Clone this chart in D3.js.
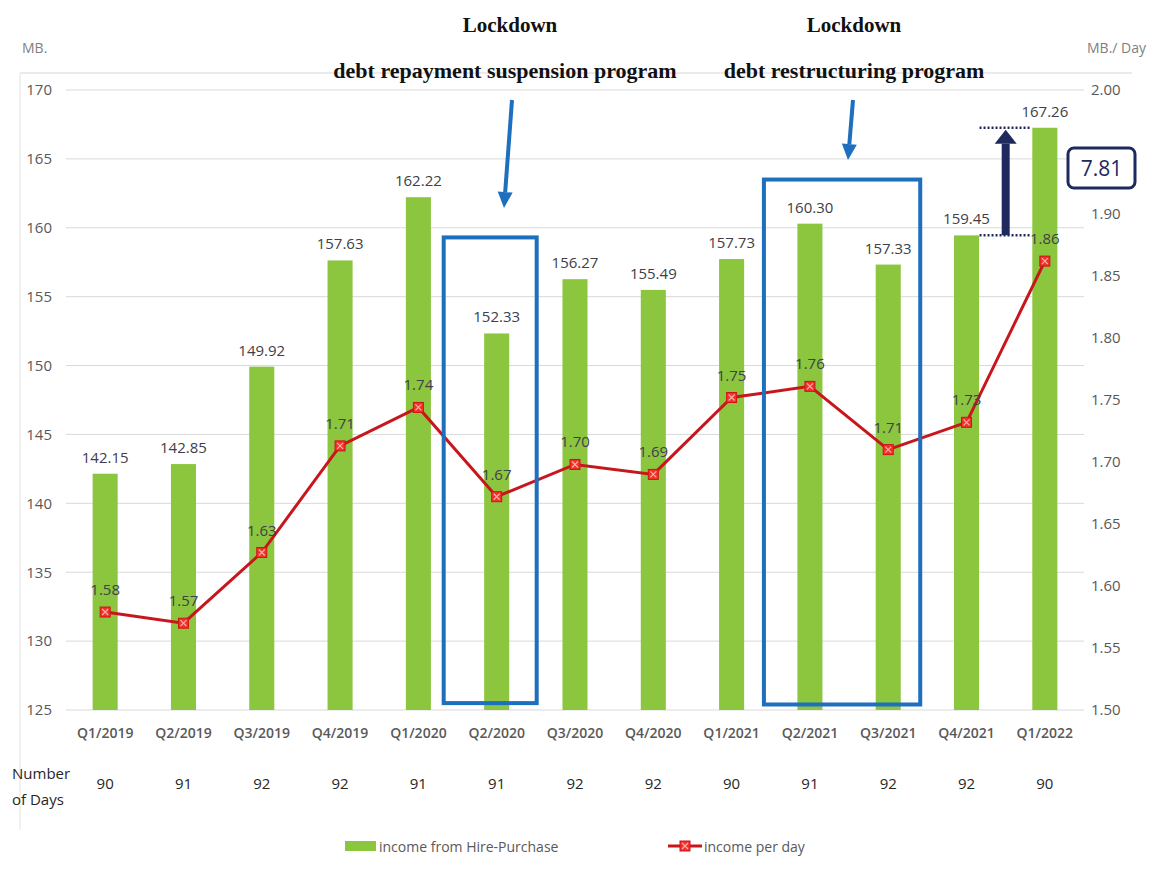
<!DOCTYPE html>
<html><head><meta charset="utf-8">
<script src="https://cdn.jsdelivr.net/npm/d3@7"></script>
<style>body{margin:0;background:#fff;} svg{display:block;}</style>
</head><body>
<svg id="chart" width="1162" height="873"></svg>
<script>
const categories = ["Q1/2019","Q2/2019","Q3/2019","Q4/2019","Q1/2020","Q2/2020","Q3/2020","Q4/2020","Q1/2021","Q2/2021","Q3/2021","Q4/2021","Q1/2022"];
const incomeHP = [142.15,142.85,149.92,157.63,162.22,152.33,156.27,155.49,157.73,160.30,157.33,159.45,167.26];
const incomePerDay = [1.579,1.570,1.627,1.713,1.744,1.672,1.698,1.690,1.752,1.761,1.710,1.732,1.862];
const numberOfDays = [90,91,92,92,91,91,92,92,90,91,92,92,90];
const leftTicks = [125,130,135,140,145,150,155,160,165,170];
const rightTicks = [1.50,1.55,1.60,1.65,1.70,1.75,1.80,1.85,1.90,2.00];
const seriesNames = ["income from Hire-Purchase","income per day"];

const svg = d3.select("#chart");
const font = "'Open Sans', 'Noto Sans', sans-serif";
const serif = "'Liberation Serif', 'DejaVu Serif', serif";
const green = "#8cc63f", red = "#c8161d", blue = "#1f6fbf", navy = "#1e2a5e";

const x = d3.scaleBand().domain(categories).range([66, 1084]).paddingInner(0.68).paddingOuter(0.34);
const yL = d3.scaleLinear().domain([125,170]).range([710, 90]);
const yR = d3.scaleLinear().domain([1.5,2.0]).range([710, 90]);
const cx = c => x(c) + x.bandwidth()/2;

// faint chart border
svg.append("line").attr("x1",20).attr("x2",1132).attr("y1",73).attr("y2",73).attr("stroke","#e4e4e4").attr("stroke-width",1.5);
svg.append("line").attr("x1",20).attr("x2",20).attr("y1",73).attr("y2",830).attr("stroke","#ececec").attr("stroke-width",1.5);

// gridlines
svg.append("g").selectAll("line").data(leftTicks).join("line")
  .attr("x1",66).attr("x2",1084).attr("y1",d=>yL(d)).attr("y2",d=>yL(d))
  .attr("stroke","#d9d9d9").attr("stroke-width",1);

// left axis
const gL = svg.append("g").attr("transform","translate(52,0)")
  .call(d3.axisLeft(yL).tickValues(leftTicks).tickSize(0).tickPadding(0).tickFormat(d3.format("d")));
gL.select(".domain").remove();
gL.selectAll("text").attr("font-family",font).attr("font-size",15).attr("fill","#595959");

// right axis
const gR = svg.append("g").attr("transform","translate(1091,0)")
  .call(d3.axisRight(yR).tickValues(rightTicks).tickSize(0).tickPadding(0).tickFormat(d3.format(".2f")));
gR.select(".domain").remove();
gR.selectAll("text").attr("font-family",font).attr("font-size",15).attr("fill","#595959");

svg.append("text").attr("x",22).attr("y",53).text("MB.").attr("font-family",font).attr("font-size",14).attr("fill","#7f7f7f");
svg.append("text").attr("x",1087).attr("y",53).text("MB./ Day").attr("font-family",font).attr("font-size",14).attr("fill","#7f7f7f");

// bottom axis
const gB = svg.append("g").attr("transform","translate(0,710)")
  .call(d3.axisBottom(x).tickSize(0).tickPadding(18));
gB.select(".domain").remove();
gB.selectAll("text").attr("font-family",font).attr("font-size",14).attr("font-weight",600).attr("fill","#595959");

// bars
svg.append("g").selectAll("rect").data(incomeHP).join("rect")
  .attr("x",(d,i)=>x(categories[i])).attr("width",x.bandwidth())
  .attr("y",d=>yL(d)).attr("height",d=>yL(125)-yL(d)).attr("fill",green);

// bar labels
svg.append("g").selectAll("text").data(incomeHP).join("text")
  .attr("x",(d,i)=>cx(categories[i])).attr("y",d=>yL(d)-11)
  .attr("text-anchor","middle").text(d=>d3.format(".2f")(d))
  .attr("font-family",font).attr("font-size",15).attr("fill","#404048");

// line
const line = d3.line().x((d,i)=>cx(categories[i])).y(d=>yR(d));
svg.append("path").datum(incomePerDay).attr("d",line).attr("fill","none").attr("stroke",red).attr("stroke-width",3);

function marker(g, px, py){
  g.append("rect").attr("x",px-5).attr("y",py-5).attr("width",10).attr("height",10)
    .attr("fill","#f0322a").attr("stroke","#d0121a").attr("stroke-width",1);
  g.append("path").attr("d",`M${px-3},${py-3}L${px+3},${py+3}M${px+3},${py-3}L${px-3},${py+3}`)
    .attr("stroke","#ffb0a8").attr("stroke-width",1.2);
}
const mg = svg.append("g");
incomePerDay.forEach((d,i)=>marker(mg, cx(categories[i]), yR(d)));

svg.append("g").selectAll("text").data(incomePerDay).join("text")
  .attr("x",(d,i)=>cx(categories[i])).attr("y",d=>yR(d)-17)
  .attr("text-anchor","middle").text(d=>d3.format(".2f")(d))
  .attr("font-family",font).attr("font-size",15).attr("fill","#404048");

// number of days row
svg.append("text").attr("x",12).attr("y",779).text("Number").attr("font-family",font).attr("font-size",15).attr("fill","#262626");
svg.append("text").attr("x",12).attr("y",805).text("of Days").attr("font-family",font).attr("font-size",15).attr("fill","#262626");
svg.append("g").selectAll("text").data(numberOfDays).join("text")
  .attr("x",(d,i)=>cx(categories[i])).attr("y",789).attr("text-anchor","middle").text(d=>d)
  .attr("font-family",font).attr("font-size",15).attr("fill","#262626");

// legend
svg.append("rect").attr("x",345).attr("y",841).attr("width",31).attr("height",10).attr("fill",green);
svg.append("text").attr("x",379).attr("y",852).text(seriesNames[0]).attr("font-family",font).attr("font-size",14).attr("fill","#595959");
svg.append("line").attr("x1",668).attr("x2",702).attr("y1",846).attr("y2",846).attr("stroke",red).attr("stroke-width",3);
marker(svg, 685, 846);
svg.append("text").attr("x",704).attr("y",852).text(seriesNames[1]).attr("font-family",font).attr("font-size",14).attr("fill","#595959");

// annotations: lockdown titles
const ann = [
  {cx: 510, cx2: 505, l1:"Lockdown", l2:"debt repayment suspension program"},
  {cx: 854, cx2: 854, l1:"Lockdown", l2:"debt restructuring program"}
];
ann.forEach(a=>{
  svg.append("text").attr("x",a.cx).attr("y",32).attr("text-anchor","middle").text(a.l1)
    .attr("font-family",serif).attr("font-weight","bold").attr("font-size",21).attr("fill","#111");
  svg.append("text").attr("x",a.cx2).attr("y",78).attr("text-anchor","middle").text(a.l2)
    .attr("font-family",serif).attr("font-weight","bold").attr("font-size",22).attr("fill","#111");
});

// blue arrows
function arrow(g, x1,y1,x2,y2,color,w,hw,hl){
  const ang = Math.atan2(y2-y1,x2-x1);
  const bx = x2 - hl*Math.cos(ang), by = y2 - hl*Math.sin(ang);
  g.append("line").attr("x1",x1).attr("y1",y1).attr("x2",bx).attr("y2",by).attr("stroke",color).attr("stroke-width",w);
  const px = -Math.sin(ang)*hw/2, py = Math.cos(ang)*hw/2;
  g.append("path").attr("d",`M${x2},${y2}L${bx+px},${by+py}L${bx-px},${by-py}Z`).attr("fill",color);
}
arrow(svg, 512, 100, 504, 208, blue, 4, 15, 16);
arrow(svg, 853, 100, 848, 160, blue, 4, 15, 16);

// blue boxes
const q2_2020 = cx("Q2/2020"), q2_2021 = cx("Q2/2021"), q3_2021 = cx("Q3/2021");
svg.append("rect").attr("x",q2_2020-53).attr("y",yL(159.3)).attr("width",93).attr("height",yL(125.5)-yL(159.3))
  .attr("fill","none").attr("stroke",blue).attr("stroke-width",4);
svg.append("rect").attr("x",q2_2021-46).attr("y",yL(163.5)).attr("width",(q3_2021+32)-(q2_2021-46)).attr("height",yL(125.4)-yL(163.5))
  .attr("fill","none").attr("stroke",blue).attr("stroke-width",4);

// difference annotation
const xa = (cx("Q4/2021")+cx("Q1/2022"))/2;
const yTop = yL(incomeHP[12]), yBot = yL(incomeHP[11]);
[yTop, yBot].forEach(yy=>{
  svg.append("line").attr("x1",cx("Q4/2021")+13).attr("x2",cx("Q1/2022")-15).attr("y1",yy).attr("y2",yy)
    .attr("stroke",navy).attr("stroke-width",2.5).attr("stroke-dasharray","2,2");
});
arrow(svg, xa, yBot, xa, yTop+2, navy, 8, 22, 14);
svg.append("rect").attr("x",1068).attr("y",148).attr("width",67).attr("height",40).attr("rx",6)
  .attr("fill","#fff").attr("stroke",navy).attr("stroke-width",3);
svg.append("text").attr("x",1101.5).attr("y",176).attr("text-anchor","middle").text(d3.format(".2f")(incomeHP[12]-incomeHP[11]))
  .attr("font-family",font).attr("font-size",21).attr("fill",navy);
</script>
</body></html>
